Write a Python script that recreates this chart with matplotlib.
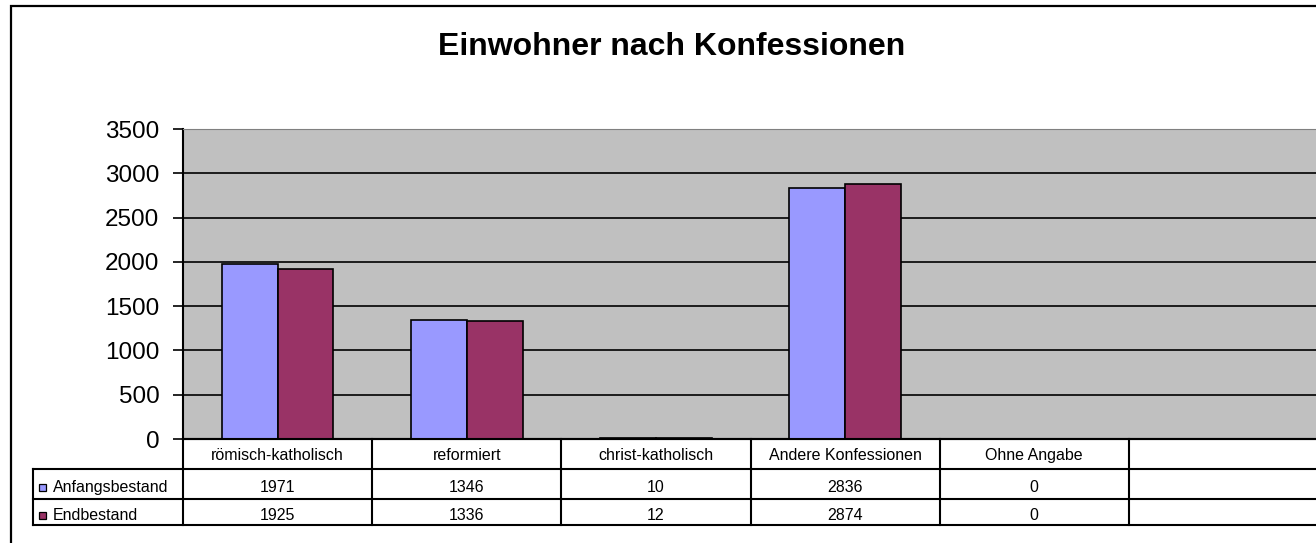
import matplotlib
matplotlib.use('Agg')
import matplotlib.pyplot as plt
from matplotlib.lines import Line2D
from matplotlib.patches import Rectangle
from matplotlib import transforms
import numpy as np

plt.rcParams['font.family'] = ['Liberation Sans', 'DejaVu Sans']

# data
categories = ['römisch-katholisch', 'reformiert', 'christ-katholisch',
              'Andere Konfessionen', 'Ohne Angabe', '']
series_names = ['Anfangsbestand', 'Endbestand']
anfang = [1971, 1346, 10, 2836, 0]
ende = [1925, 1336, 12, 2874, 0]
colors = ['#9999FF', '#993366']

W, H = 1316, 543
fig = plt.figure(figsize=(W / 100, H / 100), dpi=100)

def fx(px):
    return px / W

def fy(py):
    return 1 - py / H

# outer chart frame (continues beyond the image edge)
fig.add_artist(Rectangle((fx(11), fy(560)), fx(1400), fy(6) - fy(560),
                         transform=fig.transFigure, fill=False,
                         edgecolor='black', linewidth=1.6))

fig.text(fx(672), fy(47), 'Einwohner nach Konfessionen', ha='center', va='center',
         fontsize=23, fontweight='bold')

ax = fig.add_axes([fx(183), fy(439), fx(1318) - fx(183), fy(129) - fy(439)])
ax.set_facecolor('#C0C0C0')
ax.set_xlim(0, 6)
ax.set_ylim(0, 3500)
ax.set_yticks(np.arange(0, 3501, 500))
ax.set_xticks([])
ax.yaxis.grid(True, color='black', linewidth=1.2)
ax.set_axisbelow(True)
for s in ['top', 'right']:
    ax.spines[s].set_color('#808080')
ax.spines['left'].set_linewidth(1.5)
ax.spines['bottom'].set_linewidth(1.5)
ax.tick_params(axis='y', length=7, width=1.2, pad=10, labelsize=17.5)

bw = 0.295
x = np.arange(len(anfang)) + 0.5
ax.bar(x - bw / 2, anfang, bw, color=colors[0], edgecolor='black', linewidth=1.2, zorder=3)
ax.bar(x + bw / 2, ende, bw, color=colors[1], edgecolor='black', linewidth=1.2, zorder=3)

# data table below the axis
trans = transforms.blended_transform_factory(ax.transData, fig.transFigure)
lw = 1.5
row_y = [439, 469, 499, 525]
for i, ry in enumerate(row_y):
    x0 = 183 if i == 0 else 33
    fig.add_artist(Line2D([fx(x0), fx(1320)], [fy(ry), fy(ry)], transform=fig.transFigure,
                          color='black', linewidth=lw))
fig.add_artist(Line2D([fx(33), fx(33)], [fy(469), fy(525)], transform=fig.transFigure,
                      color='black', linewidth=lw))
for k in range(len(categories) + 1):
    fig.add_artist(Line2D([k, k], [fy(439), fy(525)], transform=trans,
                          color='black', linewidth=lw))

fs = 11.5
for k, cat in enumerate(categories):
    fig.text(k + 0.5, fy(460), cat, transform=trans, ha='center', va='baseline', fontsize=fs)
for vals, ty in [(anfang, 492), (ende, 520)]:
    for k, v in enumerate(vals):
        fig.text(k + 0.5, fy(ty), str(v), transform=trans, ha='center', va='baseline', fontsize=fs)

for name, col, ty in zip(series_names, colors, [487, 515]):
    fig.add_artist(Rectangle((fx(39), fy(ty + 3.5)), fx(7), fy(ty - 3.5) - fy(ty + 3.5),
                             transform=fig.transFigure, facecolor=col,
                             edgecolor='black', linewidth=0.9))
    fig.text(fx(53), fy(ty + 5), name, ha='left', va='baseline', fontsize=fs)

fig.savefig('out.png', dpi=100)
